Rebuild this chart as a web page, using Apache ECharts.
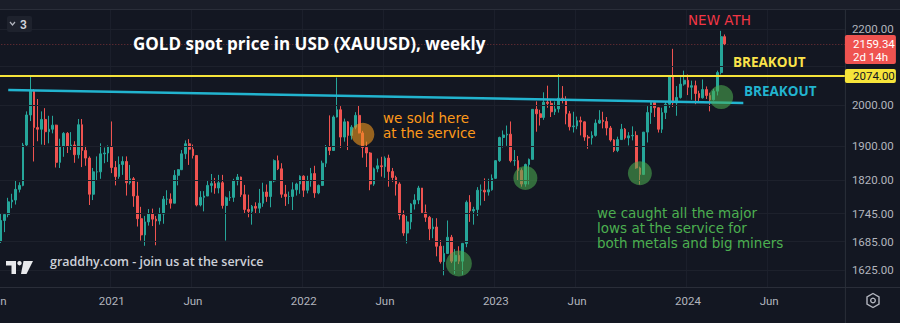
<!DOCTYPE html>
<html>
<head>
<meta charset="utf-8">
<script src="https://cdn.jsdelivr.net/npm/echarts@6/dist/echarts.min.js"></script>
<style>
html,body{margin:0;padding:0;background:#131722;}
#chart{width:900px;height:323px;}
</style>
</head>
<body>
<div id="chart"></div>
<script>
// ---------- DATA (weekly XAUUSD) ----------
const weeks = [
'2020-06-01','2020-06-08','2020-06-15','2020-06-22','2020-06-29','2020-07-06','2020-07-13','2020-07-20','2020-07-27','2020-08-03','2020-08-10','2020-08-17','2020-08-24','2020-08-31','2020-09-07','2020-09-14','2020-09-21','2020-09-28','2020-10-05','2020-10-12','2020-10-19','2020-10-26','2020-11-02','2020-11-09','2020-11-16','2020-11-23','2020-11-30','2020-12-07','2020-12-14','2020-12-21','2020-12-28',
'2021-01-04','2021-01-11','2021-01-18','2021-01-25','2021-02-01','2021-02-08','2021-02-15','2021-02-22','2021-03-01','2021-03-08','2021-03-15','2021-03-22','2021-03-29','2021-04-05','2021-04-12','2021-04-19','2021-04-26','2021-05-03','2021-05-10','2021-05-17','2021-05-24','2021-05-31','2021-06-07','2021-06-14','2021-06-21','2021-06-28','2021-07-05','2021-07-12','2021-07-19','2021-07-26','2021-08-02','2021-08-09','2021-08-16','2021-08-23','2021-08-30','2021-09-06','2021-09-13','2021-09-20','2021-09-27','2021-10-04','2021-10-11','2021-10-18','2021-10-25','2021-11-01','2021-11-08','2021-11-15','2021-11-22','2021-11-29','2021-12-06','2021-12-13','2021-12-20','2021-12-27',
'2022-01-03','2022-01-10','2022-01-17','2022-01-24','2022-01-31','2022-02-07','2022-02-14','2022-02-21','2022-02-28','2022-03-07','2022-03-14','2022-03-21','2022-03-28','2022-04-04','2022-04-11','2022-04-18','2022-04-25','2022-05-02','2022-05-09','2022-05-16','2022-05-23','2022-05-30','2022-06-06','2022-06-13','2022-06-20','2022-06-27','2022-07-04','2022-07-11','2022-07-18','2022-07-25','2022-08-01','2022-08-08','2022-08-15','2022-08-22','2022-08-29','2022-09-05','2022-09-12','2022-09-19','2022-09-26','2022-10-03','2022-10-10','2022-10-17','2022-10-24','2022-10-31','2022-11-07','2022-11-14','2022-11-21','2022-11-28','2022-12-05','2022-12-12','2022-12-19','2022-12-26',
'2023-01-02','2023-01-09','2023-01-16','2023-01-23','2023-01-30','2023-02-06','2023-02-13','2023-02-20','2023-02-27','2023-03-06','2023-03-13','2023-03-20','2023-03-27','2023-04-03','2023-04-10','2023-04-17','2023-04-24','2023-05-01','2023-05-08','2023-05-15','2023-05-22','2023-05-29','2023-06-05','2023-06-12','2023-06-19','2023-06-26','2023-07-03','2023-07-10','2023-07-17','2023-07-24','2023-07-31','2023-08-07','2023-08-14','2023-08-21','2023-08-28','2023-09-04','2023-09-11','2023-09-18','2023-09-25','2023-10-02','2023-10-09','2023-10-16','2023-10-23','2023-10-30','2023-11-06','2023-11-13','2023-11-20','2023-11-27','2023-12-04','2023-12-11','2023-12-18','2023-12-25',
'2024-01-01','2024-01-08','2024-01-15','2024-01-22','2024-01-29','2024-02-05','2024-02-12','2024-02-19','2024-02-26','2024-03-04','2024-03-11'
];
// empty weeks to the right of the last candle (axis space)
const futureWeeks = [
'2024-03-18','2024-03-25','2024-04-01','2024-04-08','2024-04-15','2024-04-22','2024-04-29','2024-05-06','2024-05-13','2024-05-20','2024-05-27','2024-06-03','2024-06-10','2024-06-17','2024-06-24','2024-07-01','2024-07-08','2024-07-15','2024-07-22','2024-07-29','2024-08-05','2024-08-12','2024-08-19','2024-08-26','2024-09-02','2024-09-09','2024-09-16','2024-09-23','2024-09-30','2024-10-07','2024-10-14','2024-10-21'
];
const open = [
1726,1685,1730,1743,1771,1775,1799,1808,1902,1975,2035,1944,1940,1964,1934,1940,1950,1861,1899,1930,1899,1902,1879,1951,1889,1871,1788,1839,1839,1881,1883,
1898,1849,1828,1856,1863,1814,1823,1784,1734,1699,1727,1745,1733,1729,1744,1777,1777,1768,1831,1844,1881,1905,1892,1877,1764,1781,1784,1808,1812,1802,1814,1763,1780,1781,1818,1827,1787,1754,1750,1761,1757,1768,1793,1783,1818,1865,1846,1788,1783,1783,1798,1811,
1829,1797,1818,1835,1791,1808,1859,1898,1889,1970,1988,1921,1958,1925,1945,1974,1931,1896,1883,1811,1846,1853,1851,1871,1840,1826,1811,1742,1703,1727,1766,1775,1802,1747,1737,1712,1716,1675,1643,1660,1694,1644,1656,1644,1681,1770,1751,1754,1797,1797,1793,1798,
1824,1865,1920,1926,1928,1865,1865,1842,1811,1856,1868,1989,1978,1969,2007,2004,1983,1990,2017,2011,1978,1946,1948,1961,1958,1921,1919,1925,1955,1962,1959,1943,1914,1889,1915,1940,1919,1924,1925,1848,1833,1933,1981,2006,1993,1940,1981,2002,2072,2005,2019,2053,
2063,2045,2049,2029,2018,2039,2024,2013,2035,2083,2179
];
const high = [
1745,1745,1746,1780,1789,1818,1815,1907,1984,2075,2040,2015,1984,1992,1973,1973,1951,1917,1933,1933,1933,1911,1965,1965,1900,1875,1848,1875,1906,1896,1901,
1959,1864,1875,1875,1875,1855,1827,1816,1760,1740,1755,1756,1740,1758,1784,1797,1790,1843,1845,1890,1913,1916,1903,1877,1795,1795,1818,1834,1825,1832,1832,1783,1795,1823,1834,1828,1809,1787,1764,1770,1800,1814,1810,1818,1868,1877,1859,1809,1794,1815,1814,1831,
1831,1830,1848,1853,1810,1865,1902,1974,1974,2070,1997,1966,1960,1950,1982,1998,1936,1910,1885,1849,1870,1874,1875,1879,1848,1830,1815,1752,1740,1768,1788,1807,1802,1765,1740,1735,1735,1688,1676,1730,1699,1669,1675,1682,1774,1786,1760,1804,1810,1824,1823,1833,
1866,1922,1937,1949,1959,1890,1876,1847,1858,1870,1989,2009,1988,2032,2049,2015,2009,2079,2048,2022,1985,1983,1971,1971,1959,1926,1935,1964,1987,1983,1970,1948,1916,1922,1953,1943,1933,1947,1935,1851,1933,1997,2009,2010,1994,1993,2008,2075,2146,2048,2071,2088,
2078,2062,2062,2036,2065,2047,2031,2041,2088,2195,2185
];
const low = [
1670,1682,1705,1737,1757,1765,1792,1806,1899,1960,1863,1911,1903,1902,1906,1930,1849,1848,1874,1883,1890,1860,1870,1850,1853,1764,1775,1820,1823,1859,1862,
1836,1808,1823,1832,1785,1810,1760,1717,1687,1676,1719,1718,1677,1721,1723,1764,1756,1768,1808,1843,1869,1855,1870,1761,1761,1750,1784,1792,1789,1790,1756,1687,1773,1771,1808,1782,1745,1737,1721,1746,1746,1760,1771,1759,1815,1843,1780,1762,1766,1753,1785,1789,
1782,1790,1805,1780,1788,1807,1850,1878,1889,1969,1895,1910,1890,1915,1940,1930,1872,1850,1797,1807,1838,1828,1825,1805,1816,1785,1732,1697,1681,1711,1754,1766,1745,1727,1688,1692,1654,1639,1615,1659,1640,1618,1638,1616,1673,1727,1721,1740,1763,1773,1785,1796,
1823,1862,1896,1900,1861,1853,1819,1805,1805,1810,1868,1934,1949,1963,1993,1970,1975,1981,2004,1952,1937,1932,1940,1925,1912,1893,1903,1922,1953,1942,1925,1910,1885,1885,1914,1915,1901,1913,1846,1810,1833,1908,1953,1970,1932,1931,1965,1993,1995,1973,2016,2049,
2025,2013,2002,2009,2016,2015,1984,2011,2024,2078,2156
];
const close = [
1685,1730,1743,1771,1775,1799,1808,1902,1975,2035,1944,1940,1964,1934,1940,1950,1861,1899,1930,1899,1902,1879,1951,1889,1871,1788,1839,1839,1881,1883,1898,
1849,1828,1856,1863,1814,1823,1784,1734,1699,1727,1745,1733,1729,1744,1777,1777,1768,1831,1844,1881,1905,1892,1877,1764,1781,1784,1808,1812,1802,1814,1763,1780,1781,1818,1827,1787,1754,1750,1761,1757,1768,1793,1783,1818,1865,1846,1788,1783,1783,1798,1811,1829,
1797,1818,1835,1791,1808,1859,1898,1889,1970,1988,1921,1958,1925,1945,1974,1931,1896,1883,1811,1846,1853,1851,1871,1840,1826,1811,1742,1703,1727,1766,1775,1802,1747,1737,1712,1716,1675,1643,1660,1694,1644,1656,1644,1681,1770,1751,1754,1797,1797,1793,1798,1824,
1865,1920,1926,1928,1865,1865,1842,1811,1856,1868,1989,1978,1969,2007,2004,1983,1990,2017,2011,1978,1946,1948,1961,1958,1921,1919,1925,1955,1962,1959,1943,1914,1889,1915,1940,1919,1924,1925,1848,1833,1933,1981,2006,1993,1940,1981,2002,2072,2005,2019,2053,2063,
2045,2049,2029,2018,2039,2024,2013,2035,2083,2179,2159.34
];
const priceTicks = [1625, 1685, 1745, 1820, 1900, 2000, 2200];
const hiddenGridTicks = [2100];
const lastPrice = 2159.34;
const breakoutLevel = 2074;
const trendLinePoints = [['2020-06-22', 2038], ['2024-04-15', 2005]];
const soldPoint = [['2022-04-25', 1928]];
const lowPoints = [['2022-10-24', 1639], ['2023-02-27', 1825], ['2023-10-02', 1836], ['2024-03-04', 2020]];

// ---------- CHART ----------
const allWeeks = weeks.concat(futureWeeks);
const candles = weeks.map((w, i) => [open[i], close[i], low[i], high[i]]);
const isLabelWeek = v => (v.slice(5, 7) === '01' || v.slice(5, 7) === '06') && Number(v.slice(8, 10)) <= 7;

const chart = echarts.init(document.getElementById('chart'), null, { renderer: 'svg' });

const GRID_LEFT = -4.7, GRID_RIGHT = 55.1, GRID_BOTTOM = 36;
const YMIN = 1591.5, YMAX = 2281.6;

chart.setOption({
  backgroundColor: '#131722',
  animation: false,
  grid: { left: GRID_LEFT, right: GRID_RIGHT, top: 0, bottom: GRID_BOTTOM, containLabel: false, outerBoundsMode: 'none' },
  xAxis: {
    type: 'category', data: allWeeks, boundaryGap: true,
    axisLine: { show: true, lineStyle: { color: '#2a2e39', width: 1 } },
    axisTick: { show: false },
    axisLabel: {
      interval: (i, v) => isLabelWeek(v),
      formatter: v => (v.slice(5, 7) === '01' ? v.slice(0, 4) : 'Jun'),
      color: '#b2b5be', fontSize: 11.5, fontFamily: 'Roboto', margin: 8
    },
    splitLine: { show: true, interval: (i, v) => isLabelWeek(v), lineStyle: { color: '#1b1f2b', width: 1 } }
  },
  yAxis: {
    type: 'log', logBase: 10, min: YMIN, max: YMAX, position: 'right',
    axisLine: { show: false }, axisTick: { show: false }, axisLabel: { show: false }, splitLine: { show: false }
  },
  series: [
    {
      name: 'grid', type: 'line', data: [], z: 1, silent: true,
      markLine: {
        silent: true, symbol: ['none', 'none'], animation: false,
        lineStyle: { color: '#1d212c', width: 1, type: 'solid' },
        label: {
          show: true, position: 'end', distance: 7, color: '#b2b5be', fontSize: 11.5, fontFamily: 'Roboto',
          formatter: p => Number(p.value).toFixed(2)
        },
        data: priceTicks.map(v => ({ yAxis: v }))
          .concat(hiddenGridTicks.map(v => ({ yAxis: v, label: { show: false } })))
          .concat([
            { yAxis: lastPrice, lineStyle: { color: 'rgba(239,83,80,0.45)', type: [1, 2], width: 1 }, label: { show: false } }
          ])
      }
    },
    {
      name: 'XAUUSD', type: 'candlestick', data: candles, z: 2, barWidth: '60%',
      itemStyle: { color: '#26a69a', color0: '#ef5350', borderColor: '#26a69a', borderColor0: '#ef5350', borderWidth: 1 }
    },
    {
      name: 'trend', type: 'line', data: trendLinePoints, z: 4, silent: true,
      symbol: 'none', lineStyle: { color: '#22b4cf', width: 2.5 },
      markLine: {
        silent: true, symbol: ['none', 'none'], animation: false,
        lineStyle: { color: '#f6e43a', width: 2, type: 'solid' },
        label: { show: false },
        data: [{ yAxis: breakoutLevel }]
      }
    },
    {
      name: 'sold', type: 'scatter', data: soldPoint, z: 5, silent: true,
      symbolSize: 23, itemStyle: { color: 'rgba(240,150,30,0.75)' }
    },
    {
      name: 'lows', type: 'scatter', data: lowPoints, z: 5, silent: true,
      symbolSize: (v, p) => (p.dataIndex === 0 ? 26 : 24), itemStyle: { color: 'rgba(76,175,80,0.7)' }
    }
  ]
});

const yLast = chart.convertToPixel({ yAxisIndex: 0 }, lastPrice);
const yBreak = chart.convertToPixel({ yAxisIndex: 0 }, breakoutLevel);
const plotRight = 900 - GRID_RIGHT;

const txt = (text, x, y, fill, font, extra) => ({
  type: 'text', x: x, y: y, z: 100, silent: true,
  style: Object.assign({ text: text, fill: fill, font: font, align: 'left', verticalAlign: 'middle' }, extra || {})
});

chart.setOption({
  graphic: [
    // top toolbar strip
    { type: 'rect', z: 90, silent: true, shape: { x: 0, y: 0, width: 900, height: 9 }, style: { fill: '#1a1e29' } },
    { type: 'line', z: 91, silent: true, shape: { x1: 0, y1: 9.5, x2: 900, y2: 9.5 }, style: { stroke: '#2a2e39', lineWidth: 1 } },
    // separators
    { type: 'line', z: 91, silent: true, shape: { x1: plotRight + 0.5, y1: 10, x2: plotRight + 0.5, y2: 323 }, style: { stroke: '#2a2e39', lineWidth: 1 } },
    { type: 'line', z: 91, silent: true, shape: { x1: plotRight, y1: 287.5, x2: 900, y2: 287.5 }, style: { stroke: '#2a2e39', lineWidth: 1 } },
    // collapse box
    { type: 'rect', z: 95, silent: true, shape: { x: 7, y: 16, width: 25, height: 16, r: 2 }, style: { fill: '#1e222d' } },
    { type: 'polyline', z: 96, silent: true, shape: { points: [[10, 22], [12.5, 25], [15, 22]] }, style: { stroke: '#b2b5be', lineWidth: 1.2, fill: null } },
    txt('3', 20, 24.5, '#d1d4dc', '600 12px Roboto'),
    // title
    txt('GOLD spot price in USD (XAUUSD), weekly', 133, 43, '#ffffff', 'bold 17px "Open Sans"'),
    // annotations
    txt('NEW ATH', 688, 20, '#f23645', '13.5px "DejaVu Sans"'),
    txt('BREAKOUT', 733, 62, '#fbe44a', 'bold 13.5px "Open Sans"'),
    txt('BREAKOUT', 744, 91, '#22b4cf', 'bold 13.5px "Open Sans"'),
    txt('we sold here\nat the service', 383, 125, '#ff9a1a', '13.5px "DejaVu Sans"', { lineHeight: 15 }),
    txt('we caught all the major\nlows at the service for\nboth metals and big miners', 597, 228, '#4caf50', '13.5px "DejaVu Sans"', { lineHeight: 15 }),
    txt('graddhy.com - join us at the service', 50, 261, '#cdd0d8', '600 12.5px "Open Sans"'),
    // TradingView logo
    { type: 'polygon', z: 95, silent: true, shape: { points: [[6, 261], [16, 261], [16, 274], [11.5, 274], [11.5, 265.5], [6, 265.5]] }, style: { fill: '#e8e9ec' } },
    { type: 'circle', z: 95, silent: true, shape: { cx: 19.5, cy: 263.2, r: 2.2 }, style: { fill: '#e8e9ec' } },
    { type: 'polygon', z: 95, silent: true, shape: { points: [[23.5, 261], [33, 261], [26.5, 274], [21, 274]] }, style: { fill: '#e8e9ec' } },
    // gear icon
    { type: 'polygon', z: 95, silent: true, shape: { points: [[873, 293.5], [879, 297], [879, 304], [873, 307.5], [867, 304], [867, 297]] }, style: { stroke: '#b2b5be', lineWidth: 1.4, fill: null } },
    { type: 'circle', z: 95, silent: true, shape: { cx: 873, cy: 300.5, r: 2.3 }, style: { stroke: '#b2b5be', lineWidth: 1.4, fill: null } },
    // price boxes
    { type: 'rect', z: 98, silent: true, shape: { x: plotRight, y: yLast - 9, width: 51, height: 29, r: 2 }, style: { fill: '#ef5350' } },
    txt(lastPrice.toFixed(2), 853, yLast, '#ffffff', '11.5px Roboto'),
    txt('2d 14h', 853, yLast + 13, '#ffffff', '11.5px Roboto'),
    { type: 'rect', z: 98, silent: true, shape: { x: plotRight, y: yBreak - 7, width: 51, height: 14, r: 2 }, style: { fill: '#f6e43a' } },
    txt(breakoutLevel.toFixed(2), 853, yBreak, '#131722', '11.5px Roboto')
  ]
});
</script>
</body>
</html>
